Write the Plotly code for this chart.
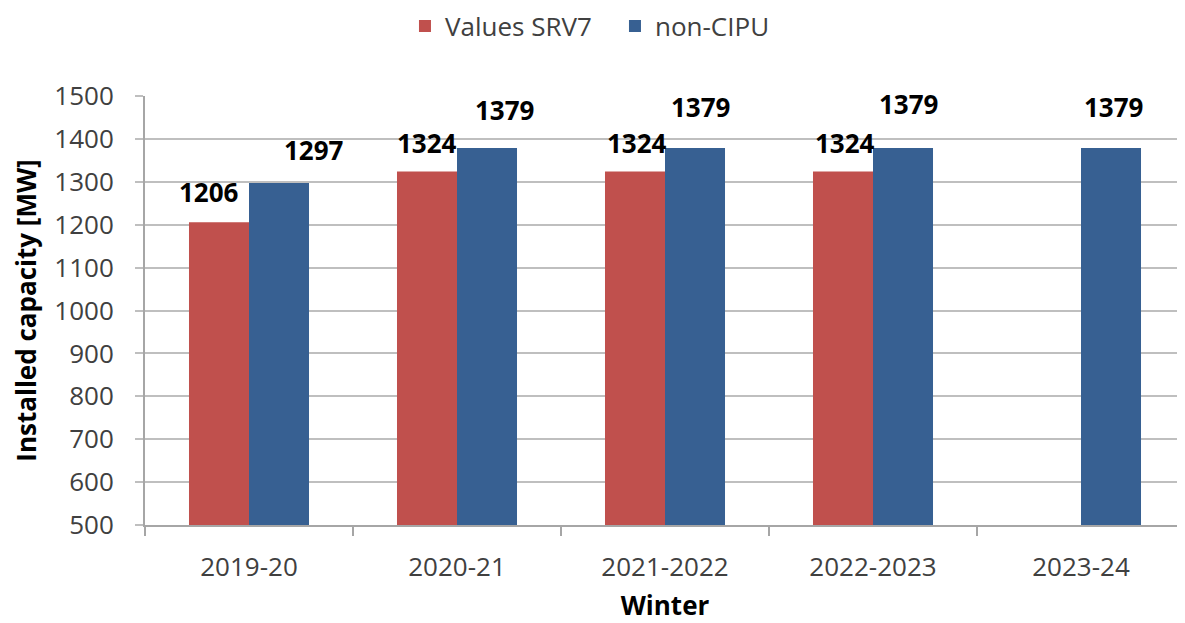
import plotly.graph_objects as go

categories = ["2019-20", "2020-21", "2021-2022", "2022-2023", "2023-24"]
srv7_values = [1206, 1324, 1324, 1324, None]
noncipu_values = [1297, 1379, 1379, 1379, 1379]

# label offsets (pixels) relative to top of each bar
srv7_label_dx = [-10, 0, 2, 2, 0]
srv7_label_dy = [30, 29, 29, 29, 0]
noncipu_label_dx = [35, 17, 5, 5, 2]
noncipu_label_dy = [33, 38, 41, 44, 41]

RED = "#C0504D"
BLUE = "#376092"
FONT = "Open Sans"
HALF_BAR = 30

fig = go.Figure()
fig.add_trace(go.Bar(name="Values SRV7", x=categories, y=srv7_values,
                     marker=dict(color=RED, line=dict(width=0))))
fig.add_trace(go.Bar(name="non-CIPU", x=categories, y=noncipu_values,
                     marker=dict(color=BLUE, line=dict(width=0))))

annotations = []
for c, v, dx, dy in zip(categories, srv7_values, srv7_label_dx, srv7_label_dy):
    if v is None:
        continue
    annotations.append(dict(x=c, y=v, xref="x", yref="y", text=str(v), showarrow=False,
                            xshift=-HALF_BAR + dx, yshift=dy, yanchor="middle",
                            font=dict(family=FONT, size=26, color="#000000", weight="bold")))
for c, v, dx, dy in zip(categories, noncipu_values, noncipu_label_dx, noncipu_label_dy):
    if v is None:
        continue
    annotations.append(dict(x=c, y=v, xref="x", yref="y", text=str(v), showarrow=False,
                            xshift=HALF_BAR + dx, yshift=dy, yanchor="middle",
                            font=dict(family=FONT, size=26, color="#000000", weight="bold")))

fig.update_layout(
    width=1185, height=623,
    margin=dict(l=137, r=8, t=88, b=106),
    paper_bgcolor="white", plot_bgcolor="white",
    barmode="group", bargap=0.423, bargroupgap=0,
    font=dict(family=FONT, size=26, color="#404040"),
    legend=dict(orientation="h", xref="container", yref="container",
                x=0.335, xanchor="left", y=0.971, yanchor="middle",
                font=dict(family=FONT, size=26, color="#404040"),
                itemwidth=30, entrywidth=165, entrywidthmode="pixels",
                traceorder="normal"),
    annotations=annotations,
    xaxis=dict(
        automargin=False,
        showline=True, linecolor="#A6A6A6", linewidth=2,
        ticks="outside", tickson="boundaries", ticklen=9, tickcolor="#A6A6A6", tickwidth=2,
        tickfont=dict(family=FONT, size=26, color="#404040"),
        ticklabelstandoff=18,
        title=dict(text="Winter", standoff=14,
                   font=dict(family=FONT, size=26, color="#000000", weight="bold")),
    ),
    yaxis=dict(
        automargin=False,
        range=[500, 1500], dtick=100, tick0=500,
        showline=True, linecolor="#A6A6A6", linewidth=2,
        showgrid=True, gridcolor="#BFBFBF", gridwidth=2,
        ticks="outside", ticklen=8, tickcolor="#BFBFBF", tickwidth=2,
        tickfont=dict(family=FONT, size=26, color="#404040"),
        ticklabelstandoff=16,
        title=dict(text="Installed capacity [MW]", standoff=11,
                   font=dict(family=FONT, size=26, color="#000000", weight="bold")),
    ),
)

fig.write_html("out.html")
